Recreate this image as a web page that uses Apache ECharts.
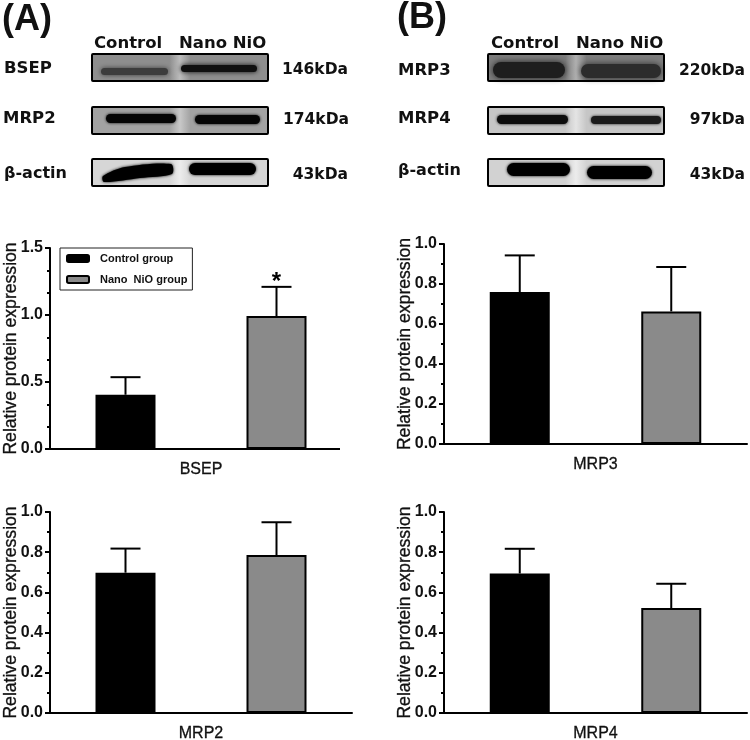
<!DOCTYPE html>
<html>
<head>
<meta charset="utf-8">
<style>html,body{margin:0;padding:0;background:#fff}#c{width:750px;height:740px}</style>
<script src="https://cdn.jsdelivr.net/npm/echarts@6/dist/echarts.min.js"></script>
</head>
<body>
<div id="c"></div>
<script>
// ---------- data ----------
const categories = ['Control group', 'Nano NiO group'];
const panelNames = ['BSEP', 'MRP3', 'MRP2', 'MRP4'];
const controlMeans = [0.405, 0.76, 0.698, 0.694];
const nanoMeans = [0.992, 0.663, 0.786, 0.522];
const controlErrorTops = [0.536, 0.943, 0.818, 0.817];
const nanoErrorTops = [1.21, 0.885, 0.949, 0.643];
const significance = [['', '*'], ['', ''], ['', ''], ['', '']];
const axisMax = [1.5, 1, 1, 1];
const axisStep = [0.5, 0.2, 0.2, 0.2];
const axisMinorSplit = [3, 2, 2, 2];
const yTitle = 'Relative protein expression';
const blotHeaders = ['Control', 'Nano NiO'];

// ---------- layout ----------
const GRIDS = [
  { left: 50, width: 302, top: 248, height: 201 },
  { left: 444, width: 303, top: 244, height: 200 },
  { left: 50, width: 302, top: 512, height: 201 },
  { left: 444, width: 303, top: 512, height: 201 }
];
const BLACK = '#000', GREY = '#8a8a8a';
const SANS = '"Liberation Sans", Arial, sans-serif';
const WIDE = '"DejaVu Sans", sans-serif';

const grid = GRIDS.map(g => ({ left: g.left, top: g.top, width: g.width, height: g.height, containLabel: false, outerBoundsMode: 'none' }));
const xAxis = GRIDS.map((g, i) => ({
  type: 'category', gridIndex: i, data: categories,
  axisLine: { show: i !== 0, onZero: false, lineStyle: { color: BLACK, width: 2 } },
  axisTick: { alignWithLabel: true, length: 5, lineStyle: { color: BLACK, width: 2 } },
  axisLabel: { show: false },
  name: panelNames[i], nameLocation: 'middle', nameGap: 13,
  nameTextStyle: { color: '#111', fontFamily: SANS, fontSize: 16, textBorderColor: '#111', textBorderWidth: 0.3 }
}));
const yAxis = GRIDS.map((g, i) => ({
  type: 'value', gridIndex: i, min: 0, max: axisMax[i], interval: axisStep[i],
  axisLine: { show: true, lineStyle: { color: BLACK, width: 2 } },
  axisTick: { show: true, length: 5, lineStyle: { color: BLACK, width: 2 } },
  minorTick: { show: true, splitNumber: axisMinorSplit[i], length: 3, lineStyle: { color: BLACK, width: 2 } },
  splitLine: { show: false },
  axisLabel: { color: '#111', fontFamily: SANS, fontWeight: 'bold', fontSize: 16, margin: 7, formatter: v => v.toFixed(1) },
  name: yTitle, nameLocation: 'middle', nameRotate: 90, nameGap: 30, nameMoveOverlap: false,
  nameTextStyle: { color: '#111', fontFamily: SANS, fontSize: 17.6, textBorderColor: '#111', textBorderWidth: 0.3 }
}));

const series = [];
GRIDS.forEach((g, i) => {
  const barBase = { type: 'bar', xAxisIndex: i, yAxisIndex: i, barWidth: 60, barGap: '-100%', silent: true };
  series.push(Object.assign({}, barBase, {
    name: categories[0], data: [controlMeans[i], '-'],
    itemStyle: { color: BLACK, borderColor: BLACK, borderWidth: 2 }
  }));
  series.push(Object.assign({}, barBase, {
    name: categories[1], data: ['-', nanoMeans[i]],
    itemStyle: { color: GREY, borderColor: BLACK, borderWidth: 2 }
  }));
  series.push({
    type: 'custom', xAxisIndex: i, yAxisIndex: i, silent: true, clip: false, z: 1,
    data: [[0, controlMeans[i], controlErrorTops[i]], [1, nanoMeans[i], nanoErrorTops[i]]],
    encode: { x: 0, y: [1, 2] },
    renderItem: function (params, api) {
      const idx = api.value(0);
      const low = api.coord([idx, api.value(1)]);
      const high = api.coord([idx, api.value(2)]);
      const style = { stroke: BLACK, lineWidth: 2, fill: 'none' };
      const children = [
        { type: 'line', shape: { x1: low[0], y1: low[1], x2: high[0], y2: high[1] }, style },
        { type: 'line', shape: { x1: high[0] - 15, y1: high[1], x2: high[0] + 15, y2: high[1] }, style }
      ];
      const mark = significance[i][idx];
      if (mark) {
        children.push({ type: 'text', style: { x: high[0], y: high[1] + 8, text: mark, align: 'center', verticalAlign: 'bottom',
          fill: BLACK, font: 'bold 24px ' + SANS } });
      }
      return { type: 'group', children };
    }
  });
});

// ---------- western-blot panels (illustrative artwork, not data) ----------
const graphic = [];
function label(text, x, y, font, align) {
  graphic.push({ type: 'text', silent: true, x, y, style: { text, font, fill: '#111', align: align || 'left', verticalAlign: 'middle' } });
}
function blot(x, y, w, h, edge, mid, bands) {
  graphic.push({ type: 'rect', silent: true, shape: { x, y, width: w, height: h },
    style: { fill: { type: 'linear', x: 0, y: 0, x2: 1, y2: 0, colorStops: [
      { offset: 0, color: edge }, { offset: 0.44, color: edge }, { offset: 0.5, color: mid }, { offset: 0.56, color: edge }, { offset: 1, color: edge }] } } });
  bands.forEach(b => {
    const st = { fill: b.c, shadowBlur: b.blur, shadowColor: b.c };
    if (b.pts) graphic.push({ type: 'polygon', silent: true, shape: { points: b.pts, smooth: 0.3 }, style: st });
    else graphic.push({ type: 'rect', silent: true, shape: { x: b.x, y: b.y, width: b.w, height: b.h, r: b.h / 2 }, style: st });
  });
  graphic.push({ type: 'rect', silent: true, shape: { x, y, width: w, height: h, r: 1 }, style: { fill: 'none', stroke: '#000', lineWidth: 2 } });
}
const HEAD = 'bold 16.5px ' + WIDE, ROW = 'bold 15.5px ' + WIDE, LEFT = 'bold 16.5px ' + WIDE;
label('(A)', 2, 20, 'bold 36px ' + SANS);
label('(B)', 397, 18, 'bold 36px ' + SANS);
label(blotHeaders[0], 94, 44, HEAD); label(blotHeaders[1], 179, 44, HEAD);
label(blotHeaders[0], 491, 44, HEAD); label(blotHeaders[1], 576, 44, HEAD);
label('BSEP', 4, 69, LEFT); label('MRP2', 3, 119, LEFT); label('β-actin', 4, 174, 'bold 16px ' + WIDE);
label('146kDa', 348, 70, ROW, 'right'); label('174kDa', 349, 120, ROW, 'right'); label('43kDa', 348, 175, ROW, 'right');
label('MRP3', 398, 71, LEFT); label('MRP4', 398, 119, LEFT); label('β-actin', 398, 171, 'bold 16px ' + WIDE);
label('220kDa', 745, 71, ROW, 'right'); label('97kDa', 745, 120, ROW, 'right'); label('43kDa', 745, 175, ROW, 'right');

blot(92, 54, 176, 27, '#8e8e8e', '#bdbdbd', [
  { x: 101, y: 68, w: 67, h: 7, c: '#3c3c3c', blur: 5 }, { x: 181, y: 65, w: 76, h: 7, c: '#101010', blur: 5 }]);
blot(92, 107, 176, 27, '#a2a2a2', '#c8c8c8', [
  { x: 106, y: 114, w: 70, h: 9, c: '#050505', blur: 3 }, { x: 195, y: 115, w: 65, h: 9, c: '#050505', blur: 3 }]);
blot(92, 159, 176, 27, '#d6d6d6', '#ececec', [
  { pts: [[103, 176], [125, 167], [171, 164], [172, 174], [140, 178], [104, 182]], c: '#000', blur: 3 },
  { x: 189, y: 163, w: 67, h: 12, c: '#000', blur: 3 }]);
blot(488, 54, 176, 27, '#7c7c7c', '#b0b0b0', [
  { x: 493, y: 62, w: 72, h: 16, c: '#1e1e1e', blur: 6 }, { x: 581, y: 64, w: 80, h: 14, c: '#2c2c2c', blur: 6 }]);
blot(488, 107, 176, 27, '#c6c6c6', '#e4e4e4', [
  { x: 497, y: 115, w: 71, h: 9, c: '#0c0c0c', blur: 3 }, { x: 591, y: 116, w: 70, h: 8, c: '#1a1a1a', blur: 3 }]);
blot(488, 159, 176, 27, '#d2d2d2', '#ececec', [
  { x: 507, y: 163, w: 63, h: 13, c: '#000', blur: 3 }, { x: 587, y: 166, w: 65, h: 13, c: '#000', blur: 3 }]);

// top-left x-axis baseline stops short of the others in the source figure
graphic.push({ type: 'line', silent: true, z: 5, shape: { x1: 46, y1: 449, x2: 340, y2: 449 }, style: { stroke: BLACK, lineWidth: 2 } });

const chart = echarts.init(document.getElementById('c'), null, { renderer: 'canvas' });
chart.setOption({
  backgroundColor: '#fff',
  animation: false,
  grid, xAxis, yAxis, series, graphic,
  legend: {
    data: categories, orient: 'vertical', left: 60, top: 248,
    backgroundColor: '#fff', borderColor: '#222', borderWidth: 1,
    padding: [5, 5, 5, 6], itemGap: 10, itemWidth: 22, itemHeight: 7, selectedMode: false,
    textStyle: { color: '#111', fontFamily: SANS, fontSize: 11, fontWeight: 'bold', padding: [0, 0, 0, 6] },
    formatter: n => n === categories[1] ? 'Nano  NiO group' : n
  }
});
</script>
</body>
</html>
